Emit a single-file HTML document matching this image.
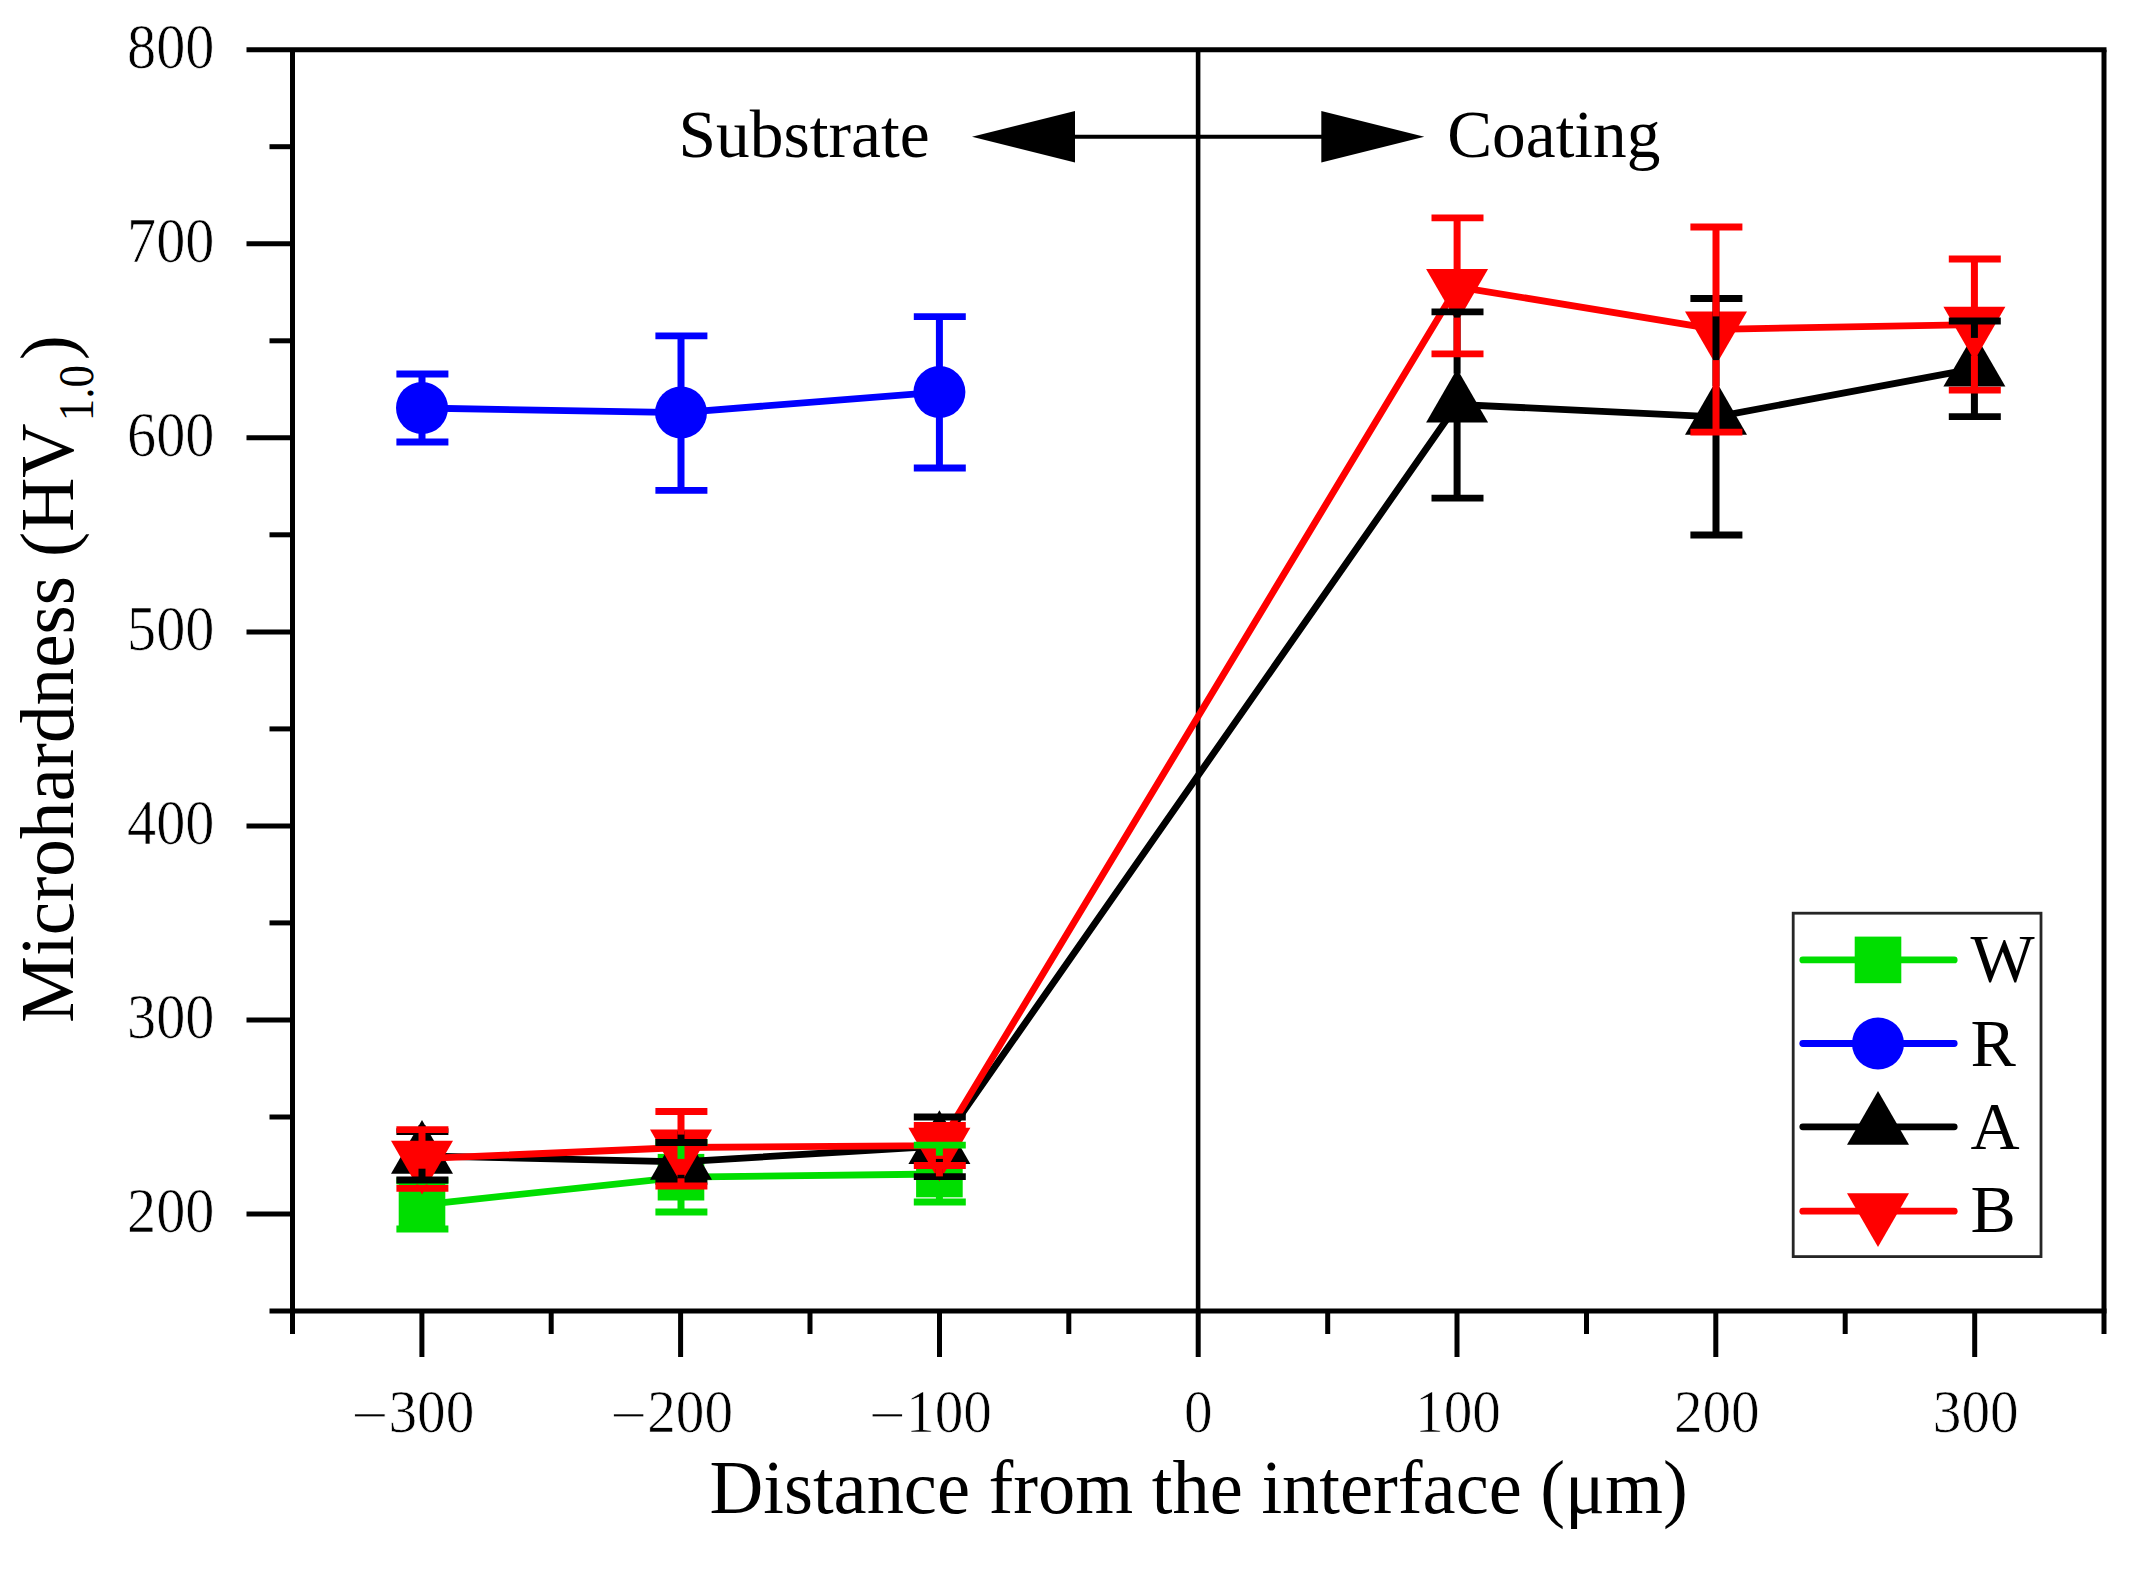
<!DOCTYPE html>
<html lang="en"><head><meta charset="utf-8"><title>Microhardness vs distance from the interface</title>
<style>html,body{margin:0;padding:0;background:#fff}body{width:2133px;height:1570px;overflow:hidden}svg{display:block}text{font-family:"Liberation Serif",serif;fill:#000}</style>
</head><body>
<svg width="2133" height="1570" viewBox="0 0 2133 1570">
<rect width="2133" height="1570" fill="#fff"/>
<g stroke="#000" stroke-width="5.0" fill="none" stroke-linecap="butt">
<line x1="246.5" y1="49.7" x2="2106.5" y2="49.7"/>
<line x1="269.5" y1="1311.0" x2="2106.5" y2="1311.0"/>
<line x1="292.5" y1="49.7" x2="292.5" y2="1334.0"/>
<line x1="2104.0" y1="49.7" x2="2104.0" y2="1334.0"/>
<line x1="246.5" y1="1214.0" x2="292.5" y2="1214.0"/>
<line x1="269.5" y1="1117.0" x2="292.5" y2="1117.0"/>
<line x1="246.5" y1="1020.0" x2="292.5" y2="1020.0"/>
<line x1="269.5" y1="922.9" x2="292.5" y2="922.9"/>
<line x1="246.5" y1="825.9" x2="292.5" y2="825.9"/>
<line x1="269.5" y1="728.9" x2="292.5" y2="728.9"/>
<line x1="246.5" y1="631.9" x2="292.5" y2="631.9"/>
<line x1="269.5" y1="534.8" x2="292.5" y2="534.8"/>
<line x1="246.5" y1="437.8" x2="292.5" y2="437.8"/>
<line x1="269.5" y1="340.8" x2="292.5" y2="340.8"/>
<line x1="246.5" y1="243.8" x2="292.5" y2="243.8"/>
<line x1="269.5" y1="146.7" x2="292.5" y2="146.7"/>
<line x1="421.9" y1="1311.0" x2="421.9" y2="1357.0"/>
<line x1="551.2" y1="1311.0" x2="551.2" y2="1334.0"/>
<line x1="680.6" y1="1311.0" x2="680.6" y2="1357.0"/>
<line x1="810.0" y1="1311.0" x2="810.0" y2="1334.0"/>
<line x1="939.5" y1="1311.0" x2="939.5" y2="1357.0"/>
<line x1="1068.8" y1="1311.0" x2="1068.8" y2="1334.0"/>
<line x1="1198.2" y1="1311.0" x2="1198.2" y2="1357.0"/>
<line x1="1327.7" y1="1311.0" x2="1327.7" y2="1334.0"/>
<line x1="1457.0" y1="1311.0" x2="1457.0" y2="1357.0"/>
<line x1="1586.5" y1="1311.0" x2="1586.5" y2="1334.0"/>
<line x1="1715.8" y1="1311.0" x2="1715.8" y2="1357.0"/>
<line x1="1845.2" y1="1311.0" x2="1845.2" y2="1334.0"/>
<line x1="1974.7" y1="1311.0" x2="1974.7" y2="1357.0"/>
</g>
<line x1="1198.1" y1="49.7" x2="1198.1" y2="1311.0" stroke="#000" stroke-width="4.6"/>
<line x1="1070" y1="136.7" x2="1326" y2="136.7" stroke="#000" stroke-width="4"/>
<polygon points="972,136.7 1075,111 1075,162.4" fill="#000"/>
<polygon points="1424.3,136.7 1321.3,111 1321.3,162.4" fill="#000"/>
<g>
<polyline fill="none" stroke="#00de00" stroke-width="6.8" stroke-linejoin="round" points="422.0,1204.8 681.0,1177.2 939.4,1174.0"/>
<rect x="398.7" y="1181.5" width="46.6" height="46.6" fill="#00de00"/>
<rect x="657.7" y="1153.9" width="46.6" height="46.6" fill="#00de00"/>
<rect x="916.1" y="1150.7" width="46.6" height="46.6" fill="#00de00"/>
</g>
<g>
<polyline fill="none" stroke="#0000ff" stroke-width="6.8" stroke-linejoin="round" points="422.0,408.0 681.0,412.6 939.4,392.1"/>
<circle cx="422.0" cy="408.0" r="26.0" fill="#0000ff"/>
<circle cx="681.0" cy="412.6" r="26.0" fill="#0000ff"/>
<circle cx="939.4" cy="392.1" r="26.0" fill="#0000ff"/>
</g>
<g>
<polyline fill="none" stroke="#000000" stroke-width="6.8" stroke-linejoin="round" points="422.0,1155.8 681.0,1161.9 939.4,1146.0 1457.1,404.5 1716.0,416.8 1974.4,368.7"/>
<polygon points="422.0,1120.0 453.0,1173.7 391.0,1173.7" fill="#000000"/>
<polygon points="681.0,1126.1 712.0,1179.8 650.0,1179.8" fill="#000000"/>
<polygon points="939.4,1110.2 970.4,1163.9 908.4,1163.9" fill="#000000"/>
<polygon points="1457.1,368.7 1488.1,422.4 1426.1,422.4" fill="#000000"/>
<polygon points="1716.0,381.0 1747.0,434.7 1685.0,434.7" fill="#000000"/>
<polygon points="1974.4,332.9 2005.4,386.6 1943.4,386.6" fill="#000000"/>
</g>
<g>
<polyline fill="none" stroke="#ff0000" stroke-width="6.8" stroke-linejoin="round" points="422.0,1158.7 681.0,1147.5 939.4,1145.6 1457.1,286.8 1716.0,329.3 1974.4,324.7"/>
<polygon points="391.0,1140.8 453.0,1140.8 422.0,1194.5" fill="#ff0000"/>
<polygon points="650.0,1129.6 712.0,1129.6 681.0,1183.3" fill="#ff0000"/>
<polygon points="908.4,1127.7 970.4,1127.7 939.4,1181.4" fill="#ff0000"/>
<polygon points="1426.1,268.9 1488.1,268.9 1457.1,322.6" fill="#ff0000"/>
<polygon points="1685.0,311.4 1747.0,311.4 1716.0,365.1" fill="#ff0000"/>
<polygon points="1943.4,306.8 2005.4,306.8 1974.4,360.5" fill="#ff0000"/>
</g>
<g stroke="#00de00" stroke-width="7.0" fill="none">
<line x1="422.0" y1="1181.0" x2="422.0" y2="1186.5"/>
<line x1="422.0" y1="1229.0" x2="422.0" y2="1223.1"/>
<line x1="396.4" y1="1181.0" x2="448.4" y2="1181.0" stroke-width="6.8"/>
<line x1="396.4" y1="1229.0" x2="448.4" y2="1229.0" stroke-width="6.8"/>
<line x1="681.0" y1="1142.4" x2="681.0" y2="1158.9"/>
<line x1="681.0" y1="1212.0" x2="681.0" y2="1195.5"/>
<line x1="655.4" y1="1142.4" x2="707.4" y2="1142.4" stroke-width="6.8"/>
<line x1="655.4" y1="1212.0" x2="707.4" y2="1212.0" stroke-width="6.8"/>
<line x1="939.4" y1="1145.2" x2="939.4" y2="1155.7"/>
<line x1="939.4" y1="1202.0" x2="939.4" y2="1192.3"/>
<line x1="913.8" y1="1145.2" x2="965.8" y2="1145.2" stroke-width="6.8"/>
<line x1="913.8" y1="1202.0" x2="965.8" y2="1202.0" stroke-width="6.8"/>
</g>
<g stroke="#0000ff" stroke-width="7.0" fill="none">
<line x1="422.0" y1="374.0" x2="422.0" y2="387.0"/>
<line x1="422.0" y1="442.0" x2="422.0" y2="429.0"/>
<line x1="396.4" y1="374.0" x2="448.4" y2="374.0" stroke-width="6.8"/>
<line x1="396.4" y1="442.0" x2="448.4" y2="442.0" stroke-width="6.8"/>
<line x1="681.0" y1="335.9" x2="681.0" y2="391.6"/>
<line x1="681.0" y1="490.4" x2="681.0" y2="433.6"/>
<line x1="655.4" y1="335.9" x2="707.4" y2="335.9" stroke-width="6.8"/>
<line x1="655.4" y1="490.4" x2="707.4" y2="490.4" stroke-width="6.8"/>
<line x1="939.4" y1="316.6" x2="939.4" y2="371.1"/>
<line x1="939.4" y1="468.0" x2="939.4" y2="413.1"/>
<line x1="913.8" y1="316.6" x2="965.8" y2="316.6" stroke-width="6.8"/>
<line x1="913.8" y1="468.0" x2="965.8" y2="468.0" stroke-width="6.8"/>
</g>
<g stroke="#000000" stroke-width="7.0" fill="none">
<line x1="422.0" y1="1131.6" x2="422.0" y2="1125.0"/>
<line x1="422.0" y1="1180.0" x2="422.0" y2="1168.7"/>
<line x1="396.4" y1="1131.6" x2="448.4" y2="1131.6" stroke-width="6.8"/>
<line x1="396.4" y1="1180.0" x2="448.4" y2="1180.0" stroke-width="6.8"/>
<line x1="681.0" y1="1142.5" x2="681.0" y2="1131.1"/>
<line x1="681.0" y1="1181.3" x2="681.0" y2="1174.8"/>
<line x1="655.4" y1="1142.5" x2="707.4" y2="1142.5" stroke-width="6.8"/>
<line x1="655.4" y1="1181.3" x2="707.4" y2="1181.3" stroke-width="6.8"/>
<line x1="939.4" y1="1117.0" x2="939.4" y2="1115.2"/>
<line x1="939.4" y1="1176.7" x2="939.4" y2="1158.9"/>
<line x1="913.8" y1="1117.0" x2="965.8" y2="1117.0" stroke-width="6.8"/>
<line x1="913.8" y1="1176.7" x2="965.8" y2="1176.7" stroke-width="6.8"/>
<line x1="1457.1" y1="311.8" x2="1457.1" y2="373.7"/>
<line x1="1457.1" y1="498.2" x2="1457.1" y2="417.4"/>
<line x1="1431.5" y1="311.8" x2="1483.5" y2="311.8" stroke-width="6.8"/>
<line x1="1431.5" y1="498.2" x2="1483.5" y2="498.2" stroke-width="6.8"/>
<line x1="1716.0" y1="298.5" x2="1716.0" y2="386.0"/>
<line x1="1716.0" y1="535.0" x2="1716.0" y2="429.7"/>
<line x1="1690.4" y1="298.5" x2="1742.4" y2="298.5" stroke-width="6.8"/>
<line x1="1690.4" y1="535.0" x2="1742.4" y2="535.0" stroke-width="6.8"/>
<line x1="1974.4" y1="321.0" x2="1974.4" y2="337.9"/>
<line x1="1974.4" y1="416.6" x2="1974.4" y2="381.6"/>
<line x1="1948.8" y1="321.0" x2="2000.8" y2="321.0" stroke-width="6.8"/>
<line x1="1948.8" y1="416.6" x2="2000.8" y2="416.6" stroke-width="6.8"/>
</g>
<g stroke="#ff0000" stroke-width="7.0" fill="none">
<line x1="422.0" y1="1129.6" x2="422.0" y2="1145.8"/>
<line x1="422.0" y1="1188.3" x2="422.0" y2="1189.5"/>
<line x1="396.4" y1="1129.6" x2="448.4" y2="1129.6" stroke-width="6.8"/>
<line x1="396.4" y1="1188.3" x2="448.4" y2="1188.3" stroke-width="6.8"/>
<line x1="681.0" y1="1111.5" x2="681.0" y2="1134.6"/>
<line x1="681.0" y1="1186.0" x2="681.0" y2="1178.3"/>
<line x1="655.4" y1="1111.5" x2="707.4" y2="1111.5" stroke-width="6.8"/>
<line x1="655.4" y1="1186.0" x2="707.4" y2="1186.0" stroke-width="6.8"/>
<line x1="939.4" y1="1125.5" x2="939.4" y2="1132.7"/>
<line x1="939.4" y1="1165.5" x2="939.4" y2="1176.4"/>
<line x1="913.8" y1="1125.5" x2="965.8" y2="1125.5" stroke-width="6.8"/>
<line x1="913.8" y1="1165.5" x2="965.8" y2="1165.5" stroke-width="6.8"/>
<line x1="1457.1" y1="217.9" x2="1457.1" y2="273.9"/>
<line x1="1457.1" y1="353.9" x2="1457.1" y2="317.6"/>
<line x1="1431.5" y1="217.9" x2="1483.5" y2="217.9" stroke-width="6.8"/>
<line x1="1431.5" y1="353.9" x2="1483.5" y2="353.9" stroke-width="6.8"/>
<line x1="1716.0" y1="227.0" x2="1716.0" y2="316.4"/>
<line x1="1716.0" y1="432.2" x2="1716.0" y2="360.1"/>
<line x1="1690.4" y1="227.0" x2="1742.4" y2="227.0" stroke-width="6.8"/>
<line x1="1690.4" y1="432.2" x2="1742.4" y2="432.2" stroke-width="6.8"/>
<line x1="1974.4" y1="259.0" x2="1974.4" y2="311.8"/>
<line x1="1974.4" y1="390.2" x2="1974.4" y2="355.5"/>
<line x1="1948.8" y1="259.0" x2="2000.8" y2="259.0" stroke-width="6.8"/>
<line x1="1948.8" y1="390.2" x2="2000.8" y2="390.2" stroke-width="6.8"/>
</g>
<rect x="1793.2" y="913.2" width="247.8" height="343.4" fill="#fff" stroke="#262626" stroke-width="2.8"/>
<line x1="1802.8" y1="959.9" x2="1954.2" y2="959.9" stroke="#00de00" stroke-width="6.8" stroke-linecap="round"/>
<rect x="1854.7" y="936.6" width="46.6" height="46.6" fill="#00de00"/>
<text x="1970.5" y="980.9" font-size="68">W</text>
<line x1="1802.8" y1="1043.5" x2="1954.2" y2="1043.5" stroke="#0000ff" stroke-width="6.8" stroke-linecap="round"/>
<circle cx="1878.0" cy="1043.5" r="26.0" fill="#0000ff"/>
<text x="1970.5" y="1065.5" font-size="68">R</text>
<line x1="1802.8" y1="1126.8" x2="1954.2" y2="1126.8" stroke="#000000" stroke-width="6.8" stroke-linecap="round"/>
<polygon points="1878.0,1091.0 1909.0,1144.7 1847.0,1144.7" fill="#000000"/>
<text x="1970.5" y="1149.1" font-size="68">A</text>
<line x1="1802.8" y1="1211.2" x2="1954.2" y2="1211.2" stroke="#ff0000" stroke-width="6.8" stroke-linecap="round"/>
<polygon points="1847.0,1193.3 1909.0,1193.3 1878.0,1247.0" fill="#ff0000"/>
<text x="1970.5" y="1232.4" font-size="68">B</text>
<text transform="translate(214.5,1232.1) scale(0.925,1)" font-size="63" text-anchor="end" stroke="#fff" stroke-width="0.7">200</text>
<text transform="translate(214.5,1038.0) scale(0.925,1)" font-size="63" text-anchor="end" stroke="#fff" stroke-width="0.7">300</text>
<text transform="translate(214.5,844.0) scale(0.925,1)" font-size="63" text-anchor="end" stroke="#fff" stroke-width="0.7">400</text>
<text transform="translate(214.5,650.0) scale(0.925,1)" font-size="63" text-anchor="end" stroke="#fff" stroke-width="0.7">500</text>
<text transform="translate(214.5,455.9) scale(0.925,1)" font-size="63" text-anchor="end" stroke="#fff" stroke-width="0.7">600</text>
<text transform="translate(214.5,261.9) scale(0.925,1)" font-size="63" text-anchor="end" stroke="#fff" stroke-width="0.7">700</text>
<text transform="translate(214.5,67.8) scale(0.925,1)" font-size="63" text-anchor="end" stroke="#fff" stroke-width="0.7">800</text>
<text transform="translate(351.2,1433.6) scale(1.17,1)" font-size="56" stroke="#fff" stroke-width="0.7">−</text>
<text transform="translate(388.5,1432.4) scale(0.938,1)" font-size="61" stroke="#fff" stroke-width="0.7">300</text>
<text transform="translate(609.9,1433.6) scale(1.17,1)" font-size="56" stroke="#fff" stroke-width="0.7">−</text>
<text transform="translate(647.2,1432.4) scale(0.938,1)" font-size="61" stroke="#fff" stroke-width="0.7">200</text>
<text transform="translate(868.8,1433.6) scale(1.17,1)" font-size="56" stroke="#fff" stroke-width="0.7">−</text>
<text transform="translate(906.1,1432.4) scale(0.938,1)" font-size="61" stroke="#fff" stroke-width="0.7">100</text>
<text transform="translate(1198.2,1432.4) scale(0.938,1)" font-size="61" text-anchor="middle" stroke="#fff" stroke-width="0.7">0</text>
<text transform="translate(1458.0,1432.4) scale(0.938,1)" font-size="61" text-anchor="middle" stroke="#fff" stroke-width="0.7">100</text>
<text transform="translate(1716.8,1432.4) scale(0.938,1)" font-size="61" text-anchor="middle" stroke="#fff" stroke-width="0.7">200</text>
<text transform="translate(1975.7,1432.4) scale(0.938,1)" font-size="61" text-anchor="middle" stroke="#fff" stroke-width="0.7">300</text>
<text transform="translate(678.6,157.3) scale(0.992,1)" font-size="68">Substrate</text>
<text transform="translate(1447.2,156.8) scale(0.99,1)" font-size="68">Coating</text>
<text transform="translate(709.5,1513) scale(0.986,1)" font-size="75.5">Distance from the interface (μm)</text>
<g transform="translate(73.2,1023) rotate(-90) scale(0.99,1)"><text font-size="76">Microhardness (HV</text><text transform="translate(636.2,20) scale(0.894,1)" font-size="51" text-anchor="middle">1.0</text><text x="669.4" font-size="76">)</text></g>
</svg></body></html>
